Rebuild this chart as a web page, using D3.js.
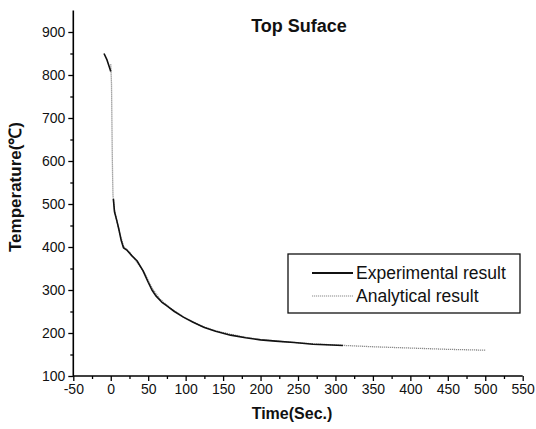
<!DOCTYPE html>
<html>
<head>
<meta charset="utf-8">
<script src="https://cdn.jsdelivr.net/npm/d3@7"></script>
<style>
  html, body { margin: 0; padding: 0; background: #fff; }
  svg { display: block; font-family: Arial, "Liberation Sans", Helvetica, sans-serif; }
</style>
</head>
<body>
<svg id="chart" width="536" height="429"></svg>
<script>
// Cooling curve of the top surface: measured vs. computed temperature
const expTime = [-9, -5, -1, 0, null, 3.5, 5, 8, 11, 14, 17, 22, 28, 35, 43, 50, 55, 60, 68, 75, 85, 97, 110, 125, 140, 160, 180, 200, 220, 245, 270, 295, 310];
const expTemp = [850, 835, 814, 808, null, 512, 482, 462, 440, 415, 398, 392, 380, 368, 345, 318, 300, 287, 272, 263, 250, 237, 225, 213, 204, 195, 189, 184, 181, 178, 174, 172, 171];

const anaTime = [0, 1, 1.5, 2, 2.5, 3, 5, 8, 12, 17, 25, 35, 45, 55, 65, 80, 100, 120, 140, 160, 180, 200, 230, 260, 300, 350, 400, 450, 500];
const anaTemp = [825, 780, 700, 620, 560, 520, 485, 462, 432, 402, 388, 365, 340, 305, 280, 257, 234, 217, 205, 197, 190, 185, 180, 176, 172, 168, 165, 162, 160];

const xTicks = [-50, 0, 50, 100, 150, 200, 250, 300, 350, 400, 450, 500, 550];
const yTicks = [100, 200, 300, 400, 500, 600, 700, 800, 900];

const titleText = "Top Suface";
const xTitle = "Time(Sec.)";
const yTitle = "Temperature(\u2103)";
const seriesNames = ["Experimental result", "Analytical result"];

const svg = d3.select("#chart");

const x = d3.scaleLinear().domain([-50, 550]).range([73.3, 522.7]);
const y = d3.scaleLinear().domain([100, 950]).range([376, 10.5]);

// minor ticks halfway between the labelled ones
const xMinor = d3.range(-25, 550, 50);
const yMinor = d3.range(150, 900, 100);

const plainNumber = d => String(d);

const axisG = svg.append("g");

// bottom axis
const xAxis = axisG.append("g").attr("transform", `translate(0,${y(100)})`)
  .call(d3.axisBottom(x).tickValues(xTicks).tickSize(5).tickPadding(3).tickFormat(plainNumber));
axisG.append("g").attr("transform", `translate(0,${y(100)})`)
  .call(d3.axisBottom(x).tickValues(xMinor).tickSize(3).tickFormat(""))
  .call(g => g.select(".domain").remove());

// left axis
const yAxis = axisG.append("g").attr("transform", `translate(${x(-50)},0)`)
  .call(d3.axisLeft(y).tickValues(yTicks).tickSize(5).tickPadding(3).tickFormat(plainNumber));
axisG.append("g").attr("transform", `translate(${x(-50)},0)`)
  .call(d3.axisLeft(y).tickValues(yMinor).tickSize(3).tickFormat(""))
  .call(g => g.select(".domain").remove());

axisG.selectAll(".domain").attr("stroke", "#000").attr("stroke-width", 1.6);
axisG.selectAll(".tick line").attr("stroke", "#000").attr("stroke-width", 1.3);
axisG.selectAll(".tick text").attr("fill", "#111").style("font-size", "14px")
  .style("font-family", "Arial, 'Liberation Sans', sans-serif");
// plain axis lines without outer end ticks
xAxis.select(".domain").attr("d", `M${x(-50)},0H${x(550)}`);
yAxis.select(".domain").attr("d", `M0,${y(100)}V${y(950)}`);

// series
const expData = expTime.map((t, i) => ({ t, v: expTemp[i] }));
const anaData = anaTime.map((t, i) => ({ t, v: anaTemp[i] }));

const line = d3.line()
  .defined(d => d.t !== null && d.v !== null)
  .x(d => x(d.t)).y(d => y(d.v))
  .curve(d3.curveLinear);

svg.append("path").datum(anaData)
  .attr("d", line)
  .attr("fill", "none")
  .attr("stroke", "#8a8a8a")
  .attr("stroke-width", 1.3)
  .attr("stroke-dasharray", "1.2,0.8");

svg.append("path").datum(expData)
  .attr("d", line)
  .attr("fill", "none")
  .attr("stroke", "#111")
  .attr("stroke-width", 1.6)
  .attr("stroke-linejoin", "round");

// titles
svg.append("text").attr("x", 299).attr("y", 32)
  .attr("text-anchor", "middle").attr("font-weight", "bold")
  .style("font-size", "18px").attr("fill", "#111").text(titleText);

svg.append("text").attr("x", 292).attr("y", 419)
  .attr("text-anchor", "middle").attr("font-weight", "bold")
  .style("font-size", "16px").attr("fill", "#111").text(xTitle);

svg.append("text")
  .attr("transform", `translate(21,187) rotate(-90)`)
  .attr("text-anchor", "middle").attr("font-weight", "bold")
  .style("font-size", "17px").attr("fill", "#111").text(yTitle);

// legend
const legend = svg.append("g");
legend.append("rect").attr("x", 288).attr("y", 254).attr("width", 232).attr("height", 59)
  .attr("fill", "#fff").attr("stroke", "#111").attr("stroke-width", 1.3);

const legendRows = [
  { name: seriesNames[0], stroke: "#111", width: 1.8, dash: null, yPos: 273 },
  { name: seriesNames[1], stroke: "#8a8a8a", width: 1.2, dash: "1.2,0.8", yPos: 296 }
];
legendRows.forEach(r => {
  legend.append("line").attr("x1", 312).attr("x2", 353).attr("y1", r.yPos).attr("y2", r.yPos)
    .attr("stroke", r.stroke).attr("stroke-width", r.width)
    .attr("stroke-dasharray", r.dash);
  legend.append("text").attr("x", 356).attr("y", r.yPos + 6)
    .style("font-size", "17.5px").attr("fill", "#111").text(r.name);
});
</script>
</body>
</html>
